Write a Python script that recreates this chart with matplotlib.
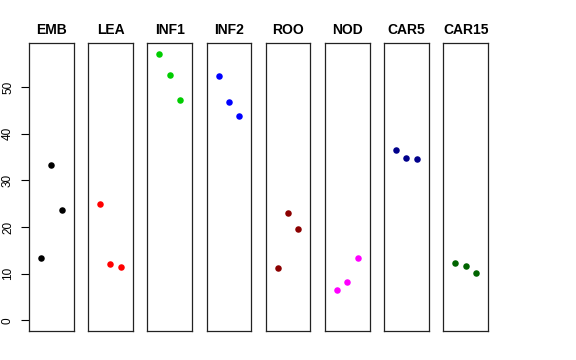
import matplotlib
matplotlib.use("Agg")
import matplotlib.pyplot as plt

plt.rcParams['font.family'] = ['Liberation Sans', 'DejaVu Sans']

tissues = ['EMB', 'LEA', 'INF1', 'INF2', 'ROO', 'NOD', 'CAR5', 'CAR15']
colors = ['black', 'red', '#00CD00', 'blue', '#8B0000', 'magenta', '#00008B', '#006400']
valores = [
    [13.3, 33.3, 23.6],
    [25.0, 12.1, 11.4],
    [57.2, 52.7, 47.2],
    [52.4, 46.9, 43.8],
    [11.2, 23.1, 19.5],
    [6.5, 8.3, 13.4],
    [36.5, 34.8, 34.7],
    [12.2, 11.6, 10.2],
]
reps = [1, 2, 3]

W, H = 576, 360
fig = plt.figure(figsize=(W / 100, H / 100), dpi=100)

ymin, ymax = 0, 57.2
pad_y = 0.04 * (ymax - ymin)
pad_x = 0.04 * 4

for i, (nome, cor, v) in enumerate(zip(tissues, colors, valores)):
    left = 29 + i * 59.2
    ax = fig.add_axes([left / W, (H - 331) / H, 44.5 / W, 288 / H])
    ax.scatter(reps, v, color=cor, s=22, zorder=3, linewidths=0)
    ax.set_xlim(0 - pad_x, 4 + pad_x)
    ax.set_ylim(ymin - pad_y, ymax + pad_y)
    ax.set_xticks([])
    ax.set_title(nome, fontsize=10, fontweight='bold', pad=6.3)
    for s in ax.spines.values():
        s.set_linewidth(0.9)
        s.set_color('#222222')
    if i == 0:
        ax.set_yticks([0, 10, 20, 30, 40, 50])
        ax.tick_params(axis='y', length=5.8, width=0.8, labelsize=8.5, pad=5)
        for t in ax.get_yticklabels():
            t.set_rotation(90)
            t.set_va('center')
    else:
        ax.set_yticks([])

fig.savefig('out.png', dpi=100)
